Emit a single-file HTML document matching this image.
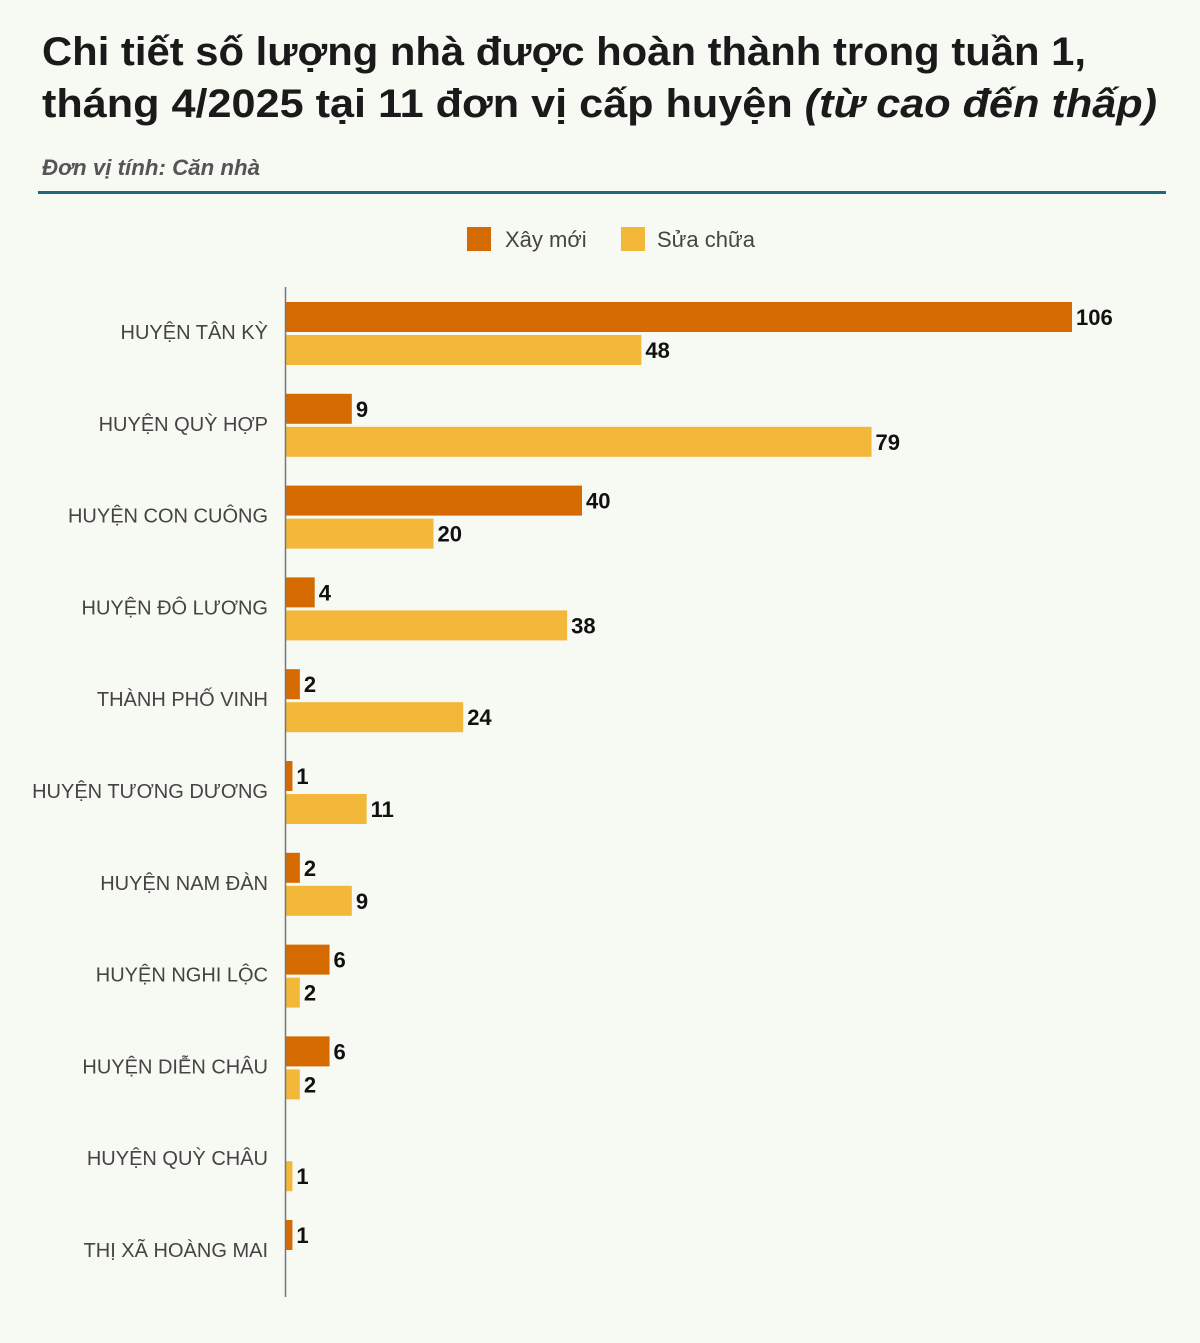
<!DOCTYPE html>
<html><head><meta charset="utf-8"><style>
body{margin:0;background:#f7f9f3;}
svg{display:block;font-family:"Liberation Sans",sans-serif;}
</style></head><body>
<svg id="chart" width="1200" height="1343" viewBox="0 0 1200 1343">
<rect x="0" y="0" width="1200" height="1343" fill="#f7f9f3"/>
<text x="42" y="65" font-size="40" font-weight="bold" fill="#1a1a1a" textLength="1044" lengthAdjust="spacingAndGlyphs">Chi tiết số lượng nhà được hoàn thành trong tuần 1,</text>
<text x="42" y="117" font-size="40" font-weight="bold" fill="#1a1a1a" textLength="1115" lengthAdjust="spacingAndGlyphs">tháng 4/2025 tại 11 đơn vị cấp huyện <tspan font-style="italic">(từ cao đến thấp)</tspan></text>
<text x="42" y="175" font-size="22" font-weight="bold" font-style="italic" fill="#555" textLength="218" lengthAdjust="spacingAndGlyphs">Đơn vị tính: Căn nhà</text>
<rect x="38" y="191" width="1128" height="3" fill="#1f6a7a"/>
<g>
<rect x="467" y="227" width="24" height="24" fill="#d46a00"/>
<text x="505" y="247" font-size="22" fill="#444">Xây mới</text>
<rect x="621" y="227" width="24" height="24" fill="#f3b83a"/>
<text x="657" y="247" font-size="22" fill="#444">Sửa chữa</text>
</g>
<g id="plot"></g>
<line x1="285.5" y1="287" x2="285.5" y2="1297" stroke="#777" stroke-width="1.5"/>
</svg>
<script>
const categories=["HUYỆN TÂN KỲ","HUYỆN QUỲ HỢP","HUYỆN CON CUÔNG","HUYỆN ĐÔ LƯƠNG","THÀNH PHỐ VINH","HUYỆN TƯƠNG DƯƠNG","HUYỆN NAM ĐÀN","HUYỆN NGHI LỘC","HUYỆN DIỄN CHÂU","HUYỆN QUỲ CHÂU","THỊ XÃ HOÀNG MAI"];
const xayMoi=[106,9,40,4,2,1,2,6,6,0,1];
const suaChua=[48,79,20,38,24,11,9,2,2,1,0];
const NS="http://www.w3.org/2000/svg";
const x0=285, pxPerUnit=(1072-285)/106;
const xScale=v=>x0+v*pxPerUnit;
const top0=287, band=91.8;
const yBand=i=>top0+i*band;
const plot=document.getElementById('plot');
function mk(tag,attrs){const e=document.createElementNS(NS,tag);for(const k in attrs)e.setAttribute(k,attrs[k]);return e;}
categories.forEach((c,i)=>{
  const y=yBand(i);
  const t=mk('text',{x:268,y:y+52,'font-size':20,fill:'#444','text-anchor':'end'});
  t.textContent=c;
  
  
  plot.appendChild(t);
  [[xayMoi[i],'#d46a00',15,'bar-xay-moi'],[suaChua[i],'#f3b83a',48,'bar-sua-chua']].forEach(([v,col,off,nm])=>{
    if(!v)return;
    const r=mk('rect',{x:x0,y:y+off,width:xScale(v)-x0,height:30,fill:col});
    
    
    plot.appendChild(r);
    const l=mk('text',{x:xScale(v)+4,y:y+off+23,'font-size':22,'font-weight':'bold',fill:'#111'});
    l.textContent=v;
    
    
    plot.appendChild(l);
  });
});
</script>
</body></html>
